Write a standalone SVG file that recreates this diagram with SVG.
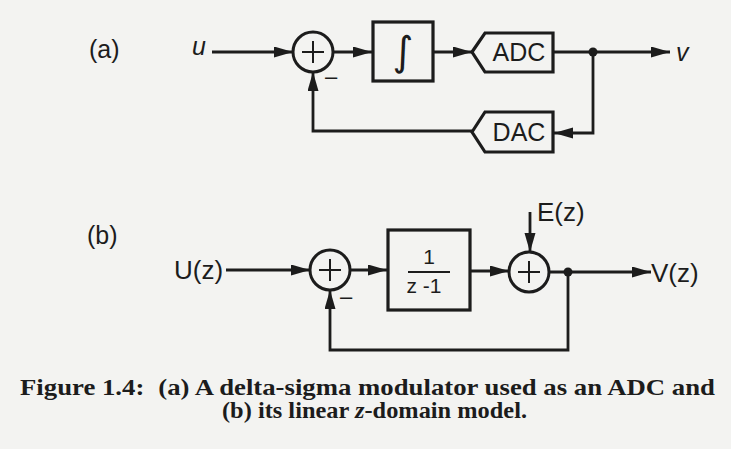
<svg xmlns="http://www.w3.org/2000/svg" width="731" height="449" viewBox="0 0 731 449">
  <defs>
    <marker id="arr" markerUnits="userSpaceOnUse" markerWidth="20" markerHeight="12" refX="19" refY="5.5" orient="auto">
      <path d="M0,0 L19,5.5 L0,11 z" fill="#1c1c1c"/>
    </marker>
    <style>
      .ln { fill: none; stroke: #1c1c1c; stroke-width: 2.8; }
      .box { fill: none; stroke: #1c1c1c; stroke-width: 3.2; }
      .sum { fill: none; stroke: #1c1c1c; stroke-width: 3; }
      .plus { stroke: #1c1c1c; stroke-width: 2; }
      .t { font-family: "Liberation Sans", Arial, sans-serif; fill: #1c1c1c; }
      .cap { font-family: "Liberation Serif", "Times New Roman", serif; font-weight: bold; fill: #1c1c1c; }
    </style>
  </defs>
  <rect x="0" y="0" width="731" height="449" fill="#f3f3f1"/>

  <!-- Part (a) -->
  <text class="t" x="89" y="58" font-size="25">(a)</text>
  <text class="t" x="192" y="55" font-size="25" font-style="italic">u</text>
  <text class="t" x="676" y="61" font-size="25" font-style="italic">v</text>

  <g id="sumA">
    <circle class="sum" cx="313" cy="52" r="20"/>
    <line class="plus" x1="302" y1="52" x2="324" y2="52"/>
    <line class="plus" x1="313" y1="41" x2="313" y2="63"/>
    <text class="t" x="325" y="84" font-size="22">–</text>
  </g>
  <g id="integrator">
    <rect class="box" x="373" y="22" width="60" height="59"/>
    <text x="403" y="65" font-size="40" text-anchor="middle" font-family="'DejaVu Sans', sans-serif" fill="#1c1c1c">∫</text>
  </g>
  <g id="adc">
    <polygon class="box" points="472,52 485,33 553,33 553,72 485,72"/>
    <text class="t" x="519" y="61" font-size="25" text-anchor="middle">ADC</text>
  </g>
  <g id="dac">
    <polygon class="box" points="472,132 485,112 553,112 553,152 485,152"/>
    <text class="t" x="519" y="141" font-size="25" text-anchor="middle">DAC</text>
  </g>

  <!-- Part (b) -->
  <text class="t" x="87" y="244" font-size="25">(b)</text>
  <text class="t" x="174" y="279" font-size="26">U(z)</text>
  <text class="t" x="537" y="221" font-size="26">E(z)</text>
  <text class="t" x="651" y="282" font-size="26">V(z)</text>

  <g id="sumB1">
    <circle class="sum" cx="330" cy="270" r="20"/>
    <line class="plus" x1="319" y1="270" x2="341" y2="270"/>
    <line class="plus" x1="330" y1="259" x2="330" y2="281"/>
    <text class="t" x="340" y="304" font-size="22">–</text>
  </g>
  <g id="delay">
    <rect class="box" x="388" y="230" width="82" height="80"/>
    <text class="t" x="429" y="264" font-size="21" text-anchor="middle">1</text>
    <line x1="408" y1="272" x2="450" y2="272" stroke="#1c1c1c" stroke-width="2"/>
    <text class="t" x="424" y="293" font-size="21" text-anchor="middle">z -1</text>
  </g>
  <g id="sumB2">
    <circle class="sum" cx="529" cy="272" r="20"/>
    <line class="plus" x1="518" y1="272" x2="540" y2="272"/>
    <line class="plus" x1="529" y1="261" x2="529" y2="283"/>
  </g>

  <g id="connectors">
    <line class="ln" x1="212" y1="52" x2="293" y2="52" marker-end="url(#arr)"/>
    <line class="ln" x1="333" y1="52" x2="372" y2="52" marker-end="url(#arr)"/>
    <line class="ln" x1="434" y1="52" x2="472" y2="52" marker-end="url(#arr)"/>
    <line class="ln" x1="553" y1="52" x2="670" y2="52" marker-end="url(#arr)"/>
    <circle cx="593" cy="52" r="4.5" fill="#1c1c1c"/>
    <path class="ln" d="M593,52 V133 H554" marker-end="url(#arr)"/>
    <path class="ln" d="M472,131 H313 V72" marker-end="url(#arr)"/>

    <line class="ln" x1="226" y1="270" x2="310" y2="270" marker-end="url(#arr)"/>
    <line class="ln" x1="350" y1="270" x2="387" y2="270" marker-end="url(#arr)"/>
    <line class="ln" x1="471" y1="271" x2="509" y2="271" marker-end="url(#arr)"/>
    <line class="ln" x1="530" y1="212" x2="530" y2="252" marker-end="url(#arr)"/>
    <line class="ln" x1="549" y1="272" x2="651" y2="272" marker-end="url(#arr)"/>
    <circle cx="568" cy="272" r="4.5" fill="#1c1c1c"/>
    <path class="ln" d="M568,272 V350 H330 V290" marker-end="url(#arr)"/>
  </g>

  <!-- Caption -->
  <text class="cap" x="20" y="395" font-size="23" textLength="695" lengthAdjust="spacingAndGlyphs">Figure 1.4:<tspan dx="12">(a) A delta-sigma modulator used as an ADC and</tspan></text>
  <text class="cap" x="222" y="418" font-size="23" textLength="305" lengthAdjust="spacingAndGlyphs">(b) its linear <tspan font-style="italic">z</tspan>-domain model.</text>
</svg>
